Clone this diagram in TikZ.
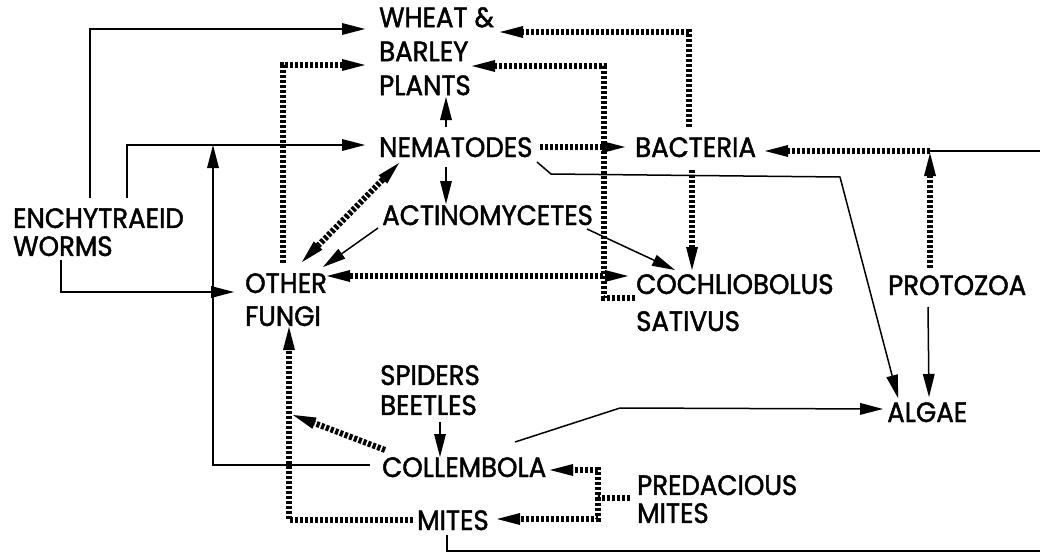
\documentclass[tikz,border=0pt]{standalone}
\usepackage{fontspec}
\setmainfont{Poppins}[FakeBold=1.6,FakeStretch=0.93]
\usetikzlibrary{arrows.meta}
\begin{document}
\begin{tikzpicture}[x=1pt,y=-1pt,
  lbl/.style={inner sep=0pt, font=\fontsize{28}{34}\selectfont, align=left},
  sol/.style={line width=1.5pt},
  dots/.style={line width=6pt, dash pattern=on 3.2pt off 1.8pt},
  tip/.style={-{Triangle[length=23pt,width=12pt,line width=0pt]}},
  tips/.style={{Triangle[length=23pt,width=12pt,line width=0pt]}-{Triangle[length=23pt,width=12pt,line width=0pt]}}]
\useasboundingbox (0,0) rectangle (1040,554);
% nodes
\node[lbl,anchor=north west] (wheat) at (379,7) {WHEAT \&\\BARLEY\\PLANTS};
\node[lbl,anchor=base west] (nem) at (379,157) {NEMATODES};
\node[lbl,anchor=base west] (bact) at (635,157) {BACTERIA};
\node[lbl,anchor=base west] (actino) at (382,225) {ACTINOMYCETES};
\node[lbl,anchor=north west,font=\fontsize{28}{33}\selectfont] (fungi) at (245,273) {OTHER\\FUNGI};
\node[lbl,anchor=north west,font=\fontsize{28}{37}\selectfont] (coch) at (636,274) {COCHLIOBOLUS\\SATIVUS};
\node[lbl,anchor=base west] (proto) at (888,295) {PROTOZOA};
\node[lbl,anchor=base west] (algae) at (887,422) {ALGAE};
\node[lbl,anchor=north west,font=\fontsize{28}{30}\selectfont] (spid) at (380,365) {SPIDERS\\BEETLES};
\node[lbl,anchor=base west] (coll) at (382,477) {COLLEMBOLA};
\node[lbl,anchor=base west] (mites) at (417,530) {MITES};
\node[lbl,anchor=north west,font=\fontsize{28}{28}\selectfont] (pred) at (637,475) {PREDACIOUS\\MITES};
\node[lbl,anchor=north west,font=\fontsize{28}{28}\selectfont] (ench) at (13,208) {ENCHYTRAEID\\WORMS};
% off-picture ends
\coordinate (eR1) at (1040,151);
\coordinate (eR2) at (1040,551);
% solid connectors
\draw[sol,tip] (90,198) -- (90,29) -- (365,29);
\draw[sol,tip] (127,198) -- (127,145) -- (365,145);
\draw[sol,tip] (370,465) -- (213,465) -- (213,145);
\draw[sol,tip] (61,260) -- (61,292) -- (234,292);
\draw[sol,tip] (446,127) -- (446,97);
\draw[sol,tip] (446,167) -- (446,204);
\draw[sol,tip] (378,228) -- (323,267);
\draw[sol,tip] (587,229) -- (675,270);
\draw[sol,tip] (537,162) -- (551,174) -- (840,177) -- (898,398);
\draw[sol] (eR1) -- (930,151);
\draw[sol,tip] (928,307) -- (929,397);
\draw[sol,tip] (515,442) -- (620,408) -- (883,409);
\draw[sol,tip] (440,422) -- (440,457);
\draw[sol] (447,535) -- (447,551) -- (eR2);
% dotted connectors
\draw[dots,tip] (283,263) -- (283,65) -- (365,65);
\draw[dots,tips] (399,163) -- (302,262);
\draw[dots,tips] (327,276) -- (628,276);
\draw[dots,tip] (692,170) -- (692,270);
\draw[dots,tip] (689,127) -- (689,32) -- (500,32);
\draw[dots,tip] (635,298) -- (604,298) -- (604,66) -- (472,66);
\draw[dots,tip] (540,147) -- (625,147);
\draw[dots,tip] (930,151) -- (765,151);
\draw[dots,tip] (930,268) -- (930,153);
\draw[dots,tip] (385,450) -- (293,415);
\draw[dots,tip] (413,520) -- (289,520) -- (289,327);
\draw[dots,tip] (630,498) -- (598,498) |- (550,470);
\draw[dots,tip] (598,498) |- (497,519);
\end{tikzpicture}
\end{document}
